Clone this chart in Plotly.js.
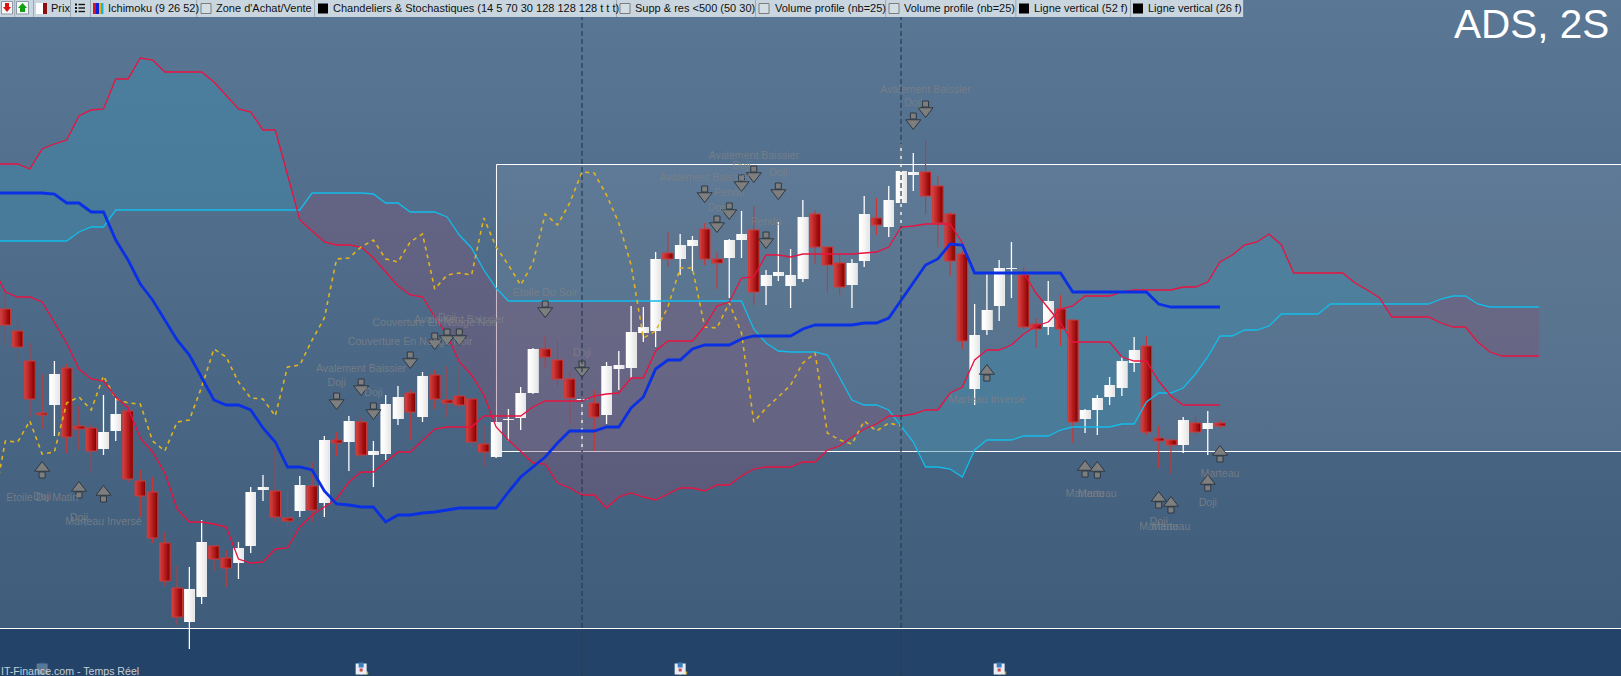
<!DOCTYPE html>
<html><head><meta charset="utf-8">
<script src="https://cdn.plot.ly/plotly-3.0.1.min.js"></script>
<style>
html,body{margin:0;padding:0;overflow:hidden;background:#234468}
#chart{width:1621px;height:676px;background:linear-gradient(to bottom,#5a7795 0px,#3f5c7a 628px,#3f5c7a 676px)}
</style></head><body><div id="chart"></div>
<script>
// Candles, bar index 0..99 (chart has no price scale: values are in chart points)
const open_ = [367,345,315,263,271,308,250,248,227,245,265,195,184,133,88,54,79,130,118,113,130,186,185,158,165,190,173,236,234,254,221,222,257,283,259,301,276,280,277,232,219,256,258,283,327,316,297,276,273,261,307,308,343,345,423,417,430,447,417,418,436,446,390,400,390,397,462,429,413,391,415,458,449,473,501,504,490,462,422,287,346,370,407,401,352,349,367,356,257,266,279,288,313,330,238,236,231,253,247,253];
const high_ = [386,357,333,302,315,312,270,253,281,278,271,206,199,144,110,109,156,131,126,134,189,201,228,185,200,214,240,244,260,259,235,281,290,286,304,306,310,310,279,251,254,267,289,328,340,335,304,277,286,314,325,370,369,424,444,442,440,453,424,437,465,470,406,454,427,476,466,430,421,417,480,478,490,532,523,536,500,464,425,372,404,416,434,409,358,395,381,356,267,281,299,319,339,340,250,236,259,260,265,256];
const low_  = [331,313,259,247,240,223,226,203,221,235,194,159,133,90,51,27,72,105,89,97,123,175,154,150,159,154,159,220,205,218,189,216,251,236,254,267,259,266,228,209,218,235,246,282,308,289,253,226,225,252,286,298,334,329,409,401,405,411,387,378,418,371,371,395,368,394,412,383,381,368,409,441,439,450,485,462,429,400,327,271,341,355,378,347,328,341,330,233,243,241,271,280,304,241,208,202,223,240,221,248];
const close_= [351,329,277,261,302,239,247,225,244,262,197,180,138,95,59,87,134,117,108,128,184,189,159,155,191,166,236,233,255,221,225,272,279,264,300,277,273,271,234,224,254,257,283,327,319,297,278,277,259,310,311,344,349,417,417,431,436,417,413,436,442,384,401,404,401,459,429,411,389,413,462,451,476,505,504,480,453,415,335,341,366,408,408,349,347,375,347,254,266,278,291,315,326,244,235,231,256,244,253,250];
// Ichimoku lines (first entry of each list is the bar just off the left edge, index -1)
const tenkan = [408,384,379,379,374,354,333,307,297,295,279,268,238,224,203,167,154,154,152,149,117,113,114,127,128,149,161,169,177,194,204,204,214,224,224,236,247,249,249,249,260,260,260,260,269,275,275,275,275,280,282,283,298,298,325,335,335,335,350,370,374,398,399,421,421,419,422,422,422,422,422,423,424,429,449,450,452,452,452,433,403,403,403,403,403,383,368,353,334,334,334,334,319,315,315,295,280,271,271,271,271];
const kijun = [483,483,483,483,483,482,473,473,464,464,436,416,392,376,356,336,321,299,276,271,271,266,248,234,209,209,206,185,172,171,169,169,154,161,161,163,164,166,168,168,168,168,184,199,209,219,233,245,245,245,249,249,268,279,307,316,316,327,331,331,331,337,340,340,340,340,347,351,351,351,351,353,353,358,376,393,411,417,432,431,403,403,403,403,403,403,403,403,384,384,384,384,384,384,384,372,369,369,369,369,369];
const chikou = [169,235,234,255,222,224,273,279,266,300,277,273,272,235,225,254,256,289,327,319,294,278,277,260,309,311,336,358,417,418,429,436,417,414,434,442,387,401,403,401,458,429,411,391,413,462,451,473,504,503,481,453,411,338,345,369,408,408,349,348,373,343,254,268,279,291,313,323,243,236,232,255,245,253,250];
const spanA = [512,512,512,507,527,532,536,560,566,567,597,597,618,616,604,604,604,604,594,580,567,564,546,546,501,456,445,434,431,431,429,418,404,390,381,379,359,341,314,301,281,249,236,224,213,212,193,188,181,181,168,179,183,179,176,182,188,188,185,191,191,200,207,209,209,209,214,214,226,230,239,247,252,260,260,262,266,266,283,289,316,326,326,331,342,350,354,367,370,380,380,380,384,386,386,386,386,389,389,394,414,421,431,434,442,431,403,403,403,403,403,393,386,378,359,359,359,359,353,349,349,334,324,320,320,320,320];
const spanB = [435,435,435,435,435,435,435,444,449,449,466,466,466,466,466,466,466,466,466,466,466,466,466,466,466,466,483,483,483,483,483,482,473,473,464,464,464,459,441,428,406,388,375,375,375,375,375,375,375,375,375,375,375,375,375,375,375,375,375,375,375,375,347,333,325,324,324,324,321,299,276,271,271,266,250,234,209,209,207,199,226,236,236,236,240,240,240,246,249,249,249,249,252,252,274,283,283,288,302,319,340,340,346,346,350,362,362,362,362,372,372,372,372,372,372,372,372,372,377,380,380,372,369,369,369,369,369];
// Support / resistance levels and vertical line positions
const resistance = 511.5;
const support = 224.5;
const floorLevel = 47.5;
const zoneStart = 40.03;
const verticals = [47,73];
// Candle pattern arrows
const downIdx = [27,29,30,33,35,36,37,44,47,57,58,59,60,61,62,63,74,75];
const downVal = [276,290,266,317,336,340,340,368,308,483,453,466,494,503,437,486,556,568];
const upIdx = [3,6,8,80,88,89,94,95,98,99];
const upVal = [205,185,181,302,206,205,175,170,192,221];
// Pattern labels
const labelText = ["Etoile Du Matin","Doji","Doji","Marteau Inversé","Doji","Avalement Baissier","Doji","Couverture En Nuage Noir","Couverture En Nuage Noir","Doji","Avalement Baissier","Etoile Du Soir","Doji","Doji","Pendu","Avalement Baissier","Doji","Avalement Baissier","Doji","Pendu","Avalement Baissier","Doji","Marteau Inversé","Marteau","Marteau","Doji","Marteau","Marteau","Doji","Marteau"];
const labelIdx = [3,3,6,8,27,29,30,33,35,36,37,44,47,58,59,57,60,61,63,62,75,74,80,88,89,94,94,95,98,99];
const labelVal = [178,179,158,154,293,307,283,334,353,358,356,383,323,468,483,498,510,520,503,454,586,573,276,182,182,154,149,149,173,202];
// Calendar event marks
const eventIdx = [3,29,55,81];
const eventVal = [7,7,7,7];
const eventOpacity = [0.3,1,1,1];
// Toolbar
const toolbarLabels = ["Prix","Ichimoku (9 26 52)","Zone d'Achat/Vente","Chandeliers & Stochastiques (14 5 70 30 128 128 128 t t t)","Supp & res <500 (50 30)","Volume profile (nb=25)","Volume profile (nb=25)","Ligne vertical (52 f)","Ligne vertical (26 f)"];
const toolbarTextX = [50,107,215,332,634,774,903,1033,1147];
const toolbarSeps = [14.5,33,70.4,90,196.5,314,616,755,885.5,1015.6,1130,1243];
const toolbarChecks = [201,620,759,889];
const toolbarBlacks = [318,1019,1133];

const W=1621,H=676;
const px=x=>x/W, py=y=>1-y/H;
const idx=open_.map((_,i)=>i);
const lineIdx=arr=>arr.map((_,i)=>i-1);
const traces=[];
const shapes=[];
const rect=(x0,y0,x1,y1,fill,line,layer)=>shapes.push({type:'rect',xref:'paper',yref:'paper',x0:px(x0),x1:px(x1),y0:py(y1),y1:py(y0),fillcolor:fill,line:line?{color:line,width:1}:{width:0},layer:layer||'above'});
const path=(d,fill)=>shapes.push({type:'path',xref:'paper',yref:'paper',path:d,fillcolor:fill,line:{width:0},layer:'above'});
const poly=(pts)=>'M'+pts.map(p=>px(p[0])+','+py(p[1])).join(' L')+' Z';

// zones
shapes.push({type:'rect',xref:'paper',yref:'y',x0:0,x1:1,y0:0,y1:floorLevel,fillcolor:'#234468',line:{width:0},layer:'below'});
shapes.push({type:'rect',xref:'x',yref:'y',x0:zoneStart,x1:140,y0:support,y1:resistance,fillcolor:'rgba(255,255,255,0.075)',line:{color:'#ffffff',width:1},layer:'below'});
shapes.push({type:'line',xref:'paper',yref:'y',x0:0,x1:1,y0:floorLevel,y1:floorLevel,line:{color:'#ffffff',width:1},layer:'below'});

// Cloud, split where the two spans cross; drawn under the candles
const BULL='rgba(62,138,170,0.44)', BEAR='rgba(128,84,118,0.38)';
(function(){
  const ci=lineIdx(spanA);
  let xs=[],a=[],b=[],sign=null;
  const flush=()=>{ if(xs.length<2) return;
    const X=xs.concat(xs.slice().reverse()), Y=a.concat(b.slice().reverse());
    shapes.push({type:'path',xref:'x',yref:'y',layer:'below',fillcolor:sign>0?BULL:BEAR,line:{width:0},
      path:'M'+X.map((v,k)=>v+','+Y[k]).join(' L')+' Z'}); };
  spanA.forEach((v,k)=>{
    const s=v-spanB[k]>=0?1:-1;
    if(sign!==null && s!==sign){
      const d0=spanA[k-1]-spanB[k-1], d1=v-spanB[k], t=d0/(d0-d1), xc=ci[k-1]+t, yc=spanA[k-1]+(v-spanA[k-1])*t;
      xs.push(xc);a.push(yc);b.push(yc);flush();xs=[xc];a=[yc];b=[yc];
    }
    sign=s;xs.push(ci[k]);a.push(v);b.push(spanB[k]);
  });
  flush();
})();

// Wicks: above and below the body only
function wickTrace(ids,color,width){
  const x=[],y=[];
  ids.forEach(i=>{
    x.push(i,i,null,i,i,null);
    y.push(Math.max(open_[i],close_[i]),high_[i],null,Math.min(open_[i],close_[i]),low_[i],null);
  });
  return {type:'scatter',mode:'lines',x,y,line:{color,width},hoverinfo:'skip'};
}
const ups=idx.filter(i=>close_[i]>=open_[i]), downs=idx.filter(i=>close_[i]<open_[i]);
traces.push(wickTrace(downs,'#c93636',1.1));
traces.push(wickTrace(ups,'#ffffff',1.3));

// Bodies: gradient made of nested overlaid bars, each narrower from the left
const bodyW=0.86;
const redShades=['#cf3f3f','#c93232','#c02828','#b41f1f','#a61414','#980c0c','#870606'];
const whiteShades=['#ffffff','#fdfdfd','#fafafa','#f6f6f6','#f1f1f1','#ececec','#e6e6e6'];
function bodySlices(ids,shades){
  const base=ids.map(i=>Math.min(open_[i],close_[i])), h=ids.map(i=>Math.abs(open_[i]-close_[i]));
  const step=bodyW/shades.length;
  shades.forEach((c,k)=>traces.push({type:'bar',x:ids,y:h,base,width:bodyW-k*step,offset:-bodyW/2+k*step,marker:{color:c,line:{width:0}},hoverinfo:'skip'}));
  return [base,h];
}
const rb=bodySlices(downs,redShades);
bodySlices(ups,whiteShades);
traces.push({type:'bar',x:downs,y:rb[1],base:rb[0],width:bodyW,offset:-bodyW/2,marker:{color:'rgba(0,0,0,0)',line:{color:'#cf3b3b',width:1}},hoverinfo:'skip'});

// Ichimoku lines
const RED='#ea1240';
traces.push({type:'scatter',mode:'lines',x:lineIdx(spanB),y:spanB,line:{color:'#12bdeb',width:1.3},hoverinfo:'skip'});
traces.push({type:'scatter',mode:'lines',x:lineIdx(spanA),y:spanA,line:{color:RED,width:1.3},hoverinfo:'skip'});
traces.push({type:'scatter',mode:'lines',x:lineIdx(chikou),y:chikou,line:{color:'#e0b41f',width:1.6,dash:'4px,4px'},hoverinfo:'skip'});
traces.push({type:'scatter',mode:'lines',x:lineIdx(tenkan),y:tenkan,line:{color:RED,width:1.3},hoverinfo:'skip'});
traces.push({type:'scatter',mode:'lines',x:lineIdx(kijun),y:kijun,line:{color:'#0a30e6',width:2.8},hoverinfo:'skip'});

// Arrows
const arrowStyle=s=>({symbol:s,color:'#7e7e7e',line:{color:'#2d3842',width:1}});
traces.push({type:'scatter',mode:'markers',x:downIdx,y:downVal.map(v=>v+4),marker:Object.assign(arrowStyle('square'),{size:6}),hoverinfo:'skip'});
traces.push({type:'scatter',mode:'markers',x:downIdx,y:downVal.map(v=>v-3),marker:Object.assign(arrowStyle('triangle-down'),{size:13}),hoverinfo:'skip'});
traces.push({type:'scatter',mode:'markers',x:upIdx,y:upVal.map(v=>v-4),marker:Object.assign(arrowStyle('square'),{size:6}),hoverinfo:'skip'});
traces.push({type:'scatter',mode:'markers',x:upIdx,y:upVal.map(v=>v+3),marker:Object.assign(arrowStyle('triangle-up'),{size:13}),hoverinfo:'skip'});

// Labels
traces.push({type:'scatter',mode:'text',x:labelIdx,y:labelVal,text:labelText,textposition:'middle center',
  textfont:{family:'Liberation Sans, Arial, sans-serif',size:10.6,color:'rgba(124,128,134,0.85)'},hoverinfo:'skip'});

// Calendar marks
traces.push({type:'scatter',mode:'markers',x:eventIdx,y:eventVal.map(v=>v-4),marker:{symbol:'square',size:3,color:'#c8a030',opacity:eventOpacity,line:{width:0}},hoverinfo:'skip'});
traces.push({type:'scatter',mode:'markers',x:eventIdx.map(v=>v+0.45),y:eventVal.map(v=>v-4),marker:{symbol:'square',size:3,color:'#c8a030',opacity:eventOpacity,line:{width:0}},hoverinfo:'skip'});
traces.push({type:'scatter',mode:'markers',x:eventIdx,y:eventVal,marker:{symbol:'square',size:11,color:'#e8eef4',opacity:eventOpacity,line:{width:0}},hoverinfo:'skip'});
traces.push({type:'scatter',mode:'markers',x:eventIdx,y:eventVal.map(v=>v+4),marker:{symbol:'square',size:5,color:'#3a7cc0',opacity:eventOpacity,line:{width:0}},hoverinfo:'skip'});
traces.push({type:'scatter',mode:'markers',x:eventIdx,y:eventVal.map(v=>v-1),marker:{symbol:'square',size:3,color:'#d0464a',opacity:eventOpacity,line:{width:0}},hoverinfo:'skip'});

// Vertical bar-count lines
verticals.forEach(v=>shapes.push({type:'line',xref:'x',yref:'paper',x0:v,x1:v,y0:0,y1:py(17),line:{color:'#2a3c50',width:1.2,dash:'5px,3px'},layer:'above'}));

// toolbar
rect(0,0,1243,17,'#c9d6df',null);
toolbarSeps.forEach(x=>{rect(x,0,x+0.6,17,'#808c98',null);});
rect(1.5,1.5,12.5,14,'#f4f6f8','#8c98a4');
path(poly([[5,3],[9,3],[9,7],[11,7],[7,12],[3,7],[5,7]]),'#e01010');
rect(16.5,1.5,28.5,14,'#f4f6f8','#8c98a4');
path(poly([[22.5,3],[27,8],[25,8],[25,12],[20,12],[20,8],[18,8]]),'#10a010');
rect(36,3,43,14,'#ffffff',null);rect(43,3,47,14,'#8b0f0f',null);
[4.5,8,11.5].forEach(y=>{rect(75,y-1,77,y+1,'#111',null);rect(78.5,y-0.7,85,y+0.7,'#111',null);});
rect(93,3,96,14,'#d81020',null);rect(96,3,99,14,'#1020d8',null);rect(99,3,101,14,'#e8b010',null);rect(101,3,103.5,14,'#10b8e8',null);
toolbarChecks.forEach(x=>rect(x,3.5,x+10,13.5,'#d3dde4','#7d7d7d'));
toolbarBlacks.forEach(x=>rect(x,3.5,x+10,13.5,'#000000',null));

const annotations=[];
toolbarLabels.forEach((t,i)=>annotations.push({xref:'paper',yref:'paper',x:px(toolbarTextX[i]),y:py(8.5),text:t,showarrow:false,xanchor:'left',yanchor:'middle',borderpad:0,
  font:{family:'Liberation Sans, Arial, sans-serif',size:11,color:'#101010'}}));
annotations.push({xref:'paper',yref:'paper',x:px(1611),y:py(24),text:'ADS, 2S',showarrow:false,xanchor:'right',yanchor:'middle',
  font:{family:'Liberation Sans, Arial, sans-serif',size:40.5,color:'#ffffff'}});
annotations.push({xref:'paper',yref:'paper',x:0,y:py(671),text:'IT-Finance.com - Temps Réel',showarrow:false,xanchor:'left',yanchor:'middle',borderpad:0,
  font:{family:'Liberation Sans, Arial, sans-serif',size:10.6,color:'#c6ced6'}});

Plotly.newPlot('chart',traces,{
  width:W,height:H,margin:{l:0,r:0,t:0,b:0,pad:0},
  paper_bgcolor:'rgba(0,0,0,0)',plot_bgcolor:'rgba(0,0,0,0)',
  showlegend:false,barmode:'overlay',hovermode:false,
  xaxis:{range:[-0.4344,131.68],visible:false,fixedrange:true},
  yaxis:{range:[0,676],visible:false,fixedrange:true},
  shapes,annotations
},{staticPlot:true,displayModeBar:false});
</script></body></html>
